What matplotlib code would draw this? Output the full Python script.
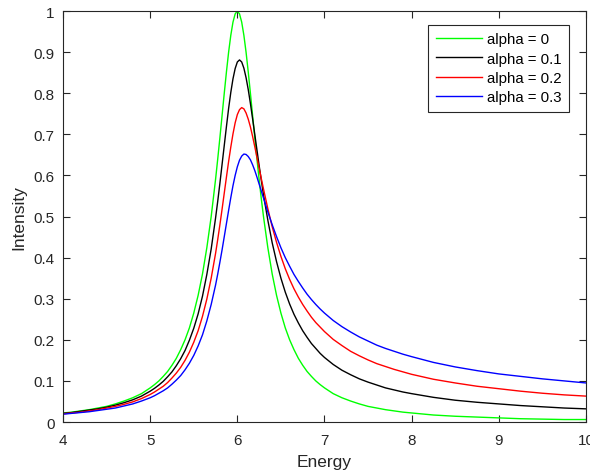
import matplotlib
matplotlib.use("Agg")
import matplotlib.pyplot as plt

# Energy grid (denser around the peak at 6)
energy = [4.0, 4.1, 4.2, 4.3, 4.4, 4.5, 4.6, 4.7, 4.8, 4.9, 5.0,
          5.05, 5.1, 5.15, 5.2, 5.25, 5.3, 5.35, 5.4, 5.45, 5.5, 5.55, 5.6, 5.65, 5.7, 5.75,
          5.775, 5.8, 5.825, 5.85, 5.875, 5.9, 5.925, 5.95, 5.975, 6.0, 6.025, 6.05, 6.075,
          6.1, 6.125, 6.15, 6.175, 6.2, 6.225, 6.25, 6.275, 6.3,
          6.35, 6.4, 6.45, 6.5, 6.55, 6.6, 6.65, 6.7, 6.75, 6.8, 6.85, 6.9, 6.95, 7.0,
          7.1, 7.2, 7.3, 7.4, 7.5, 7.6, 7.7, 7.8, 7.9, 8.0,
          8.25, 8.5, 8.75, 9.0, 9.25, 9.5, 9.75, 10.0]

alpha_0 = [0.022, 0.024, 0.027, 0.030, 0.034, 0.038, 0.044, 0.051, 0.059, 0.069, 0.083,
           0.091, 0.100, 0.111, 0.123, 0.138, 0.155, 0.176, 0.200, 0.229, 0.265, 0.308, 0.360,
           0.424, 0.500, 0.590,
           0.640, 0.692, 0.746, 0.800, 0.852, 0.900, 0.941, 0.973, 0.993, 1.000, 0.993, 0.973,
           0.941, 0.900, 0.852, 0.800, 0.746, 0.692, 0.640, 0.590, 0.543, 0.500,
           0.424, 0.360, 0.308, 0.265, 0.229, 0.200, 0.176, 0.155, 0.138, 0.123, 0.111, 0.100,
           0.091, 0.083,
           0.069, 0.059, 0.051, 0.044, 0.038, 0.034, 0.030, 0.027, 0.024, 0.022,
           0.017, 0.014, 0.012, 0.010, 0.008, 0.007, 0.006, 0.006]
alpha_1 = [0.021, 0.023, 0.026, 0.029, 0.032, 0.036, 0.041, 0.047, 0.054, 0.063, 0.075,
           0.082, 0.090, 0.099, 0.110, 0.122, 0.137, 0.154, 0.174, 0.199, 0.228, 0.263, 0.306,
           0.359, 0.421, 0.496,
           0.537, 0.581, 0.627, 0.673, 0.719, 0.763, 0.802, 0.835, 0.860, 0.876, 0.881, 0.876,
           0.861, 0.838, 0.809, 0.775, 0.738, 0.700, 0.662, 0.624, 0.588, 0.553,
           0.491, 0.436, 0.390, 0.350, 0.316, 0.287, 0.262, 0.241, 0.222, 0.206, 0.191, 0.179,
           0.167, 0.157,
           0.140, 0.126, 0.115, 0.105, 0.097, 0.090, 0.083, 0.078, 0.073, 0.069,
           0.060, 0.053, 0.048, 0.044, 0.040, 0.037, 0.034, 0.032]
alpha_2 = [0.020, 0.022, 0.024, 0.027, 0.030, 0.034, 0.038, 0.043, 0.049, 0.057, 0.067,
           0.073, 0.080, 0.087, 0.096, 0.107, 0.119, 0.133, 0.150, 0.170, 0.194, 0.222, 0.257,
           0.299, 0.350, 0.410,
           0.444, 0.480, 0.518, 0.557, 0.596, 0.634, 0.669, 0.701, 0.728, 0.748, 0.760, 0.765,
           0.762, 0.752, 0.737, 0.718, 0.695, 0.670, 0.644, 0.618, 0.592, 0.567,
           0.519, 0.475, 0.437, 0.403, 0.373, 0.347, 0.324, 0.304, 0.286, 0.270, 0.255, 0.242,
           0.231, 0.220,
           0.201, 0.186, 0.172, 0.161, 0.151, 0.142, 0.135, 0.128, 0.122, 0.116,
           0.104, 0.095, 0.087, 0.081, 0.075, 0.070, 0.066, 0.063]
alpha_3 = [0.019, 0.021, 0.023, 0.025, 0.028, 0.031, 0.034, 0.039, 0.044, 0.051, 0.059,
           0.064, 0.070, 0.076, 0.083, 0.092, 0.102, 0.113, 0.127, 0.143, 0.162, 0.185, 0.212,
           0.246, 0.286, 0.333,
           0.360, 0.389, 0.419, 0.451, 0.483, 0.515, 0.546, 0.575, 0.600, 0.621, 0.637, 0.647,
           0.652, 0.651, 0.646, 0.638, 0.626, 0.612, 0.596, 0.579, 0.562, 0.545,
           0.511, 0.480, 0.451, 0.424, 0.400, 0.379, 0.359, 0.342, 0.326, 0.311, 0.298, 0.286,
           0.275, 0.265,
           0.247, 0.232, 0.219, 0.207, 0.197, 0.187, 0.179, 0.172, 0.165, 0.159,
           0.145, 0.134, 0.125, 0.117, 0.111, 0.105, 0.100, 0.095]

series = [alpha_0, alpha_1, alpha_2, alpha_3]
labels = ["alpha = 0", "alpha = 0.1", "alpha = 0.2", "alpha = 0.3"]
colors = ["#00ff00", "#000000", "#ff0000", "#0000ff"]

x_ticks = [4, 5, 6, 7, 8, 9, 10]
y_ticks = [0, 0.1, 0.2, 0.3, 0.4, 0.5, 0.6, 0.7, 0.8, 0.9, 1]
y_tick_labels = ["0", "0.1", "0.2", "0.3", "0.4", "0.5", "0.6", "0.7", "0.8", "0.9", "1"]

plt.rcParams["font.family"] = ["Liberation Sans", "DejaVu Sans"]
axis_grey = "#262626"

fig = plt.figure(figsize=(5.9, 4.77), dpi=100)
ax = fig.add_axes([0.1068, 0.1132, 0.8864, 0.8616])

for vals, lab, col in zip(series, labels, colors):
    ax.plot(energy, vals, color=col, lw=1.0, label=lab)

ax.set_xlim(4, 10)
ax.set_ylim(0, 1)
ax.set_xticks(x_ticks)
ax.set_xticklabels([str(t) for t in x_ticks])
ax.set_yticks(y_ticks)
ax.set_yticklabels(y_tick_labels)
ax.tick_params(direction="in", top=True, right=True, length=5, width=0.8,
               colors=axis_grey, labelsize=11)
ax.tick_params(axis="x", pad=8)
ax.tick_params(axis="y", pad=6)
for sp in ax.spines.values():
    sp.set_color(axis_grey)
    sp.set_linewidth(0.8)

ax.set_xlabel("Energy", fontsize=12.5, color=axis_grey, labelpad=5)
ax.set_ylabel("Intensity", fontsize=12.5, color=axis_grey, labelpad=5)

leg = ax.legend(loc="upper right", bbox_to_anchor=(0.9675, 0.966), fontsize=10.8,
                handlelength=3.1, handletextpad=0.3, borderpad=0.5, labelspacing=0.35,
                fancybox=False, framealpha=1.0, borderaxespad=0)
leg.get_frame().set_edgecolor(axis_grey)
leg.get_frame().set_linewidth(0.8)

fig.savefig("out.png", dpi=100)
